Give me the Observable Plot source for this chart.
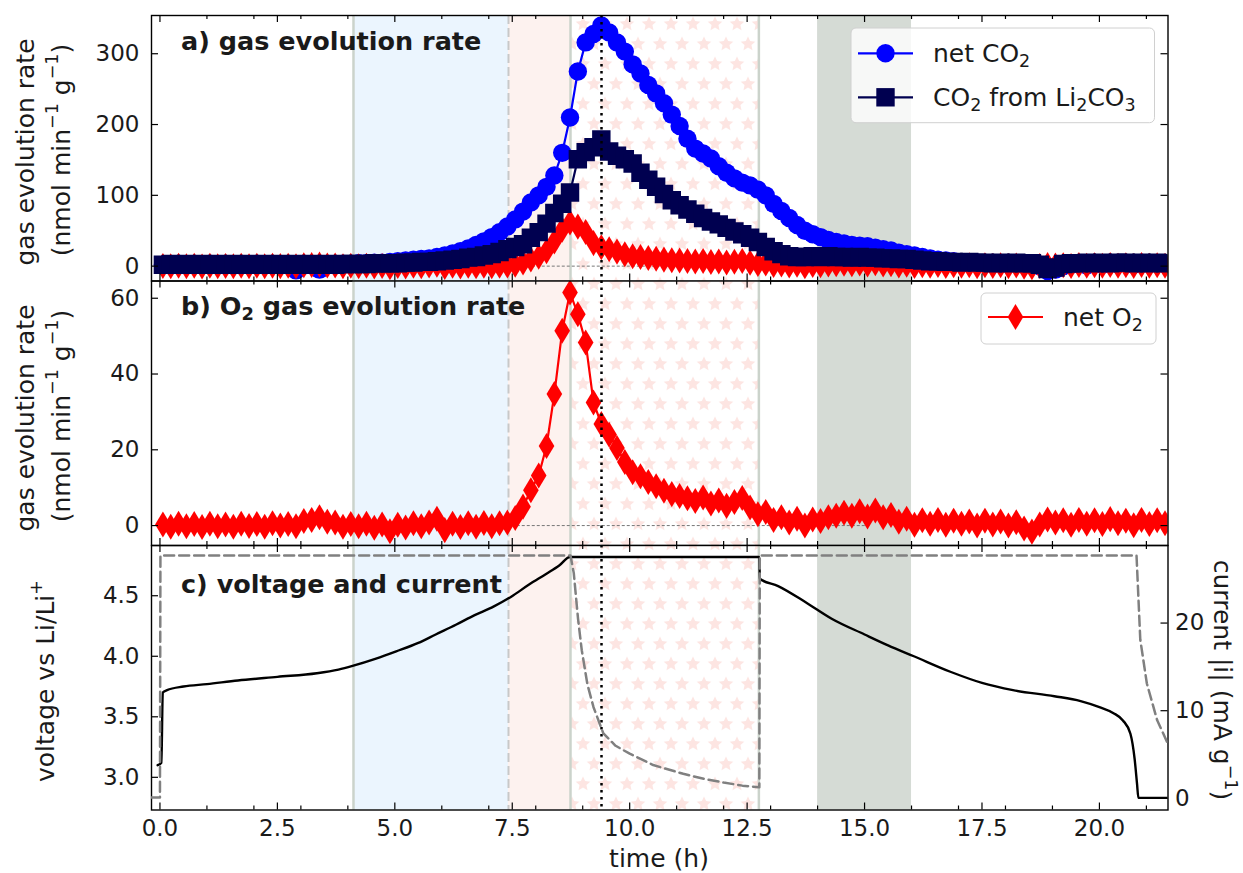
<!DOCTYPE html>
<html><head><meta charset="utf-8">
<script src="https://cdn.jsdelivr.net/npm/d3@7"></script>
<script src="https://cdn.jsdelivr.net/npm/@observablehq/plot@0.6"></script>
<style>
html,body{margin:0;padding:0;background:#fff;}
#fig{position:relative;width:1243px;height:873px;overflow:hidden;background:#fff;font-family:"DejaVu Sans",sans-serif;}
#fig svg{position:absolute;left:0;top:0;overflow:visible;background:transparent;}
</style></head>
<body><div id="fig"></div>
<script>
// ---------------- data ----------------
// gas evolution samples: regular 10-min grid starting at sampleStartH
const sampleStartH = 0.063;
const sampleStepH = 1 / 6;
const o2Rate = [0.3,-0.3,0.5,-0.2,0.4,-0.4,0.5,-0.2,0.3,-0.3,
  0.5,-0.1,0.4,-0.3,0.6,0.0,0.4,-0.2,1.2,1.5,
  2.2,1.0,0.8,-0.3,0.4,-0.2,0.5,-0.6,0.3,-1.5,
  0.2,-0.5,0.6,-0.2,0.8,1.8,-1.2,0.5,-0.4,0.6,
  -0.3,0.7,-0.2,0.6,0.8,2.0,5.0,9.3,13.2,21.0,
  34.7,51.4,61.5,55.8,48.3,32.5,26.8,24.0,20.5,16.8,
  14.1,13.0,11.5,10.4,9.2,8.3,7.8,7.2,6.5,7.4,
  5.8,6.6,5.2,6.2,7.3,4.8,3.0,3.6,1.5,2.2,
  0.8,1.8,0.0,1.6,1.2,2.2,2.6,3.4,2.6,3.8,
  2.4,4.0,2.2,2.8,1.0,1.8,0.2,1.4,0.5,1.5,
  0.2,1.3,0.5,1.1,0.0,1.3,0.3,1.1,0.0,0.9,
  -0.8,-1.6,0.3,1.6,0.8,1.4,0.2,1.5,0.5,1.4,
  0.4,1.7,0.6,1.3,0.1,1.5,0.4,1.4,0.6];
const co2Net = [2,1,3,2,2,1,3,2,2,1,
  2,1,3,2,2,1,2,-6,1,2,
  -5,2,2,3,3,4,4,5,5,6,
  7,8,9,10,11,13,15,18,21,25,
  30,35,41,48,56,66,77,90,100,112,
  128,160,210,275,316,328,340,330,316,303,
  285,272,256,244,230,214,198,180,166,159,
  152,141,132,124,118,114,108,100,88,78,
  68,58,50,45,41,37,34,32,30,29,
  28,26,24,22,19,17,15,13,11,9,
  8,7,5,5,4,4,3,4,3,4,
  2,3,0,-7,-5,0,2,3,1,4,
  2,5,3,4,2,5,3,4,3];
const co2FromLi2CO3 = [2,3,2,3,2,3,2,3,2,3,
  2,3,2,3,2,3,2,3,2,3,
  2,3,2,3,3,3,3,4,4,4,
  4,5,5,6,6,7,8,9,10,12,
  13,15,17,20,24,27,31,40,48,60,
  75,88,104,151,161,168,179,162,156,151,
  145,132,122,112,102,93,86,80,74,68,
  63,59,54,49,45,40,34,27,21,17,
  14,13,13,14,13,14,13,13,12,13,
  12,12,11,11,10,10,9,8,7,7,
  6,6,5,6,5,5,4,5,4,5,
  4,4,2,-4,-2,3,4,4,5,4,
  5,4,5,5,4,5,4,5,4];

// voltage (V vs Li/Li+) and current |i| (mA/g)
const voltageTime = [-0.05,0.03,0.06,0.15,0.5,1.0,1.66,2.5,3.34,3.8,4.1,4.6,5.03,5.5,5.87,6.3,6.7,7.1,7.47,7.85,8.22,8.5,8.73,12.76,12.77,13.16,13.77,14.3,15.0,15.5,16.05,16.84,17.5,18.16,19.04,19.6,20.0,20.3,20.5,20.66,20.75,20.8,20.83,21.5];
const voltageValue = [3.1,3.12,3.70,3.72,3.75,3.77,3.80,3.83,3.86,3.89,3.92,3.98,4.04,4.11,4.18,4.26,4.34,4.41,4.49,4.59,4.68,4.75,4.82,4.82,4.64,4.58,4.44,4.31,4.18,4.09,4.0,3.87,3.78,3.72,3.67,3.63,3.58,3.53,3.47,3.36,3.15,2.95,2.83,2.83];
const currentTime = [-0.2,0.0,0.01,8.74,8.81,8.9,8.98,9.1,9.23,9.44,9.7,10.0,10.5,11.14,11.6,12.0,12.4,12.76,12.77,20.79,20.87,21.01,21.23,21.46];
const currentValue = [0.1,0.1,27.7,27.7,25.7,20.5,16.9,13.0,10.4,7.4,6.0,5.1,3.8,2.8,2.2,1.8,1.45,1.26,27.7,27.7,18.1,13.1,8.9,6.2];

// shaded phases (h)
const spanBlue = [4.12, 7.42];
const spanPink = [7.42, 8.74];
const spanStars = [8.74, 12.75];
const spanGray = [14.0, 16.0];
const boundarySolid = [4.12, 8.74, 12.75];
const boundaryDashed = [7.42];
const markerTime = [9.4];
const zeroLineSpan = [7.5, 15.1];

// ticks
const xMajor = [0, 2.5, 5, 7.5, 10, 12.5, 15, 17.5, 20];
const xMinor = [1,2,3,4,6,7,8,9,11,12,13,14,16,17,18,19,21];
const yTicksA = [0, 100, 200, 300];
const yTicksB = [0, 20, 40, 60];
const yTicksV = [3.0, 3.5, 4.0, 4.5];
const yTicksI = [0, 10, 20];

// ---------------- layout ----------------
const W = 1243, H = 873;
const frameL = 151, frameR = 1167.5;
const xDomain = [-0.18, 21.46];
const panels = {
  a: {top: 15, bottom: 280.5, y: [-21, 354]},
  b: {top: 280.5, bottom: 545, y: [-5.26, 64.55]},
  c: {top: 545, bottom: 809.5, y: [2.73, 4.915]},
  ci: {top: 545, bottom: 809.5, y: [-1.33, 28.85]}
};

const gas = o2Rate.map((v, i) => ({
  t: sampleStartH + i * sampleStepH,
  o2: v, net: co2Net[i], li: co2FromLi2CO3[i]
}));
const volt = voltageTime.map((t, i) => ({t, v: voltageValue[i]}));
const curr = currentTime.map((t, i) => ({t, v: currentValue[i]}));

const thinDiamond = {
  draw(ctx, size) {
    const r = Math.sqrt(size / Math.PI);
    const h = r * 1.414, w = r * 0.85;
    ctx.moveTo(0, -h); ctx.lineTo(w, 0); ctx.lineTo(0, h); ctx.lineTo(-w, 0); ctx.closePath();
  }
};

const style = {fontFamily: "DejaVu Sans", fontSize: "23px", background: "transparent", overflow: "visible", color: "#1a1a1a"};

function backgroundMarks(id) {
  return [
    Plot.rect([spanBlue], {x1: d => d[0], x2: d => d[1], fill: "#ebf5fe"}),
    Plot.rect([spanPink], {x1: d => d[0], x2: d => d[1], fill: "#fdf2ef"}),
    Plot.rect([spanStars], {x1: d => d[0], x2: d => d[1], fill: `url(#stars-${id})`}),
    Plot.rect([spanGray], {x1: d => d[0], x2: d => d[1], fill: "#d5dbd5"}),
    Plot.ruleX(boundarySolid, {x: d => d, stroke: "#cbd3cb", strokeWidth: 2.5}),
    Plot.ruleX(boundaryDashed, {x: d => d, stroke: "#c8c8c8", strokeWidth: 2, strokeDasharray: "9,4"})
  ];
}

function frameMarks(p, yTicks, rightTicks) {
  const fh = p.bottom - p.top, fw = frameR - frameL;
  const k = {stroke: "#000", strokeWidth: 1.2};
  const m = [
    Plot.tickX(xMajor, {x: d => d, insetTop: fh - 7, ...k}),
    Plot.tickX(xMajor, {x: d => d, insetBottom: fh - 7, ...k}),
    Plot.tickX(xMinor, {x: d => d, insetTop: fh - 4, ...k}),
    Plot.tickX(xMinor, {x: d => d, insetBottom: fh - 4, ...k}),
    Plot.tickY(yTicks, {y: d => d, insetRight: fw - 7, ...k})
  ];
  if (rightTicks) m.push(Plot.tickY(yTicks, {y: d => d, insetLeft: fw - 7, ...k}));
  m.push(Plot.frame({stroke: "#000", strokeWidth: 1.4}));
  return m;
}

function starDefs(id) {
  const star = (cx, cy) => {
    const pts = [];
    for (let j = 0; j < 10; j++) {
      const r = j % 2 === 0 ? 7.6 : 3.6;
      const a = -Math.PI / 2 + j * Math.PI / 5;
      pts.push((cx + r * Math.cos(a)).toFixed(2) + "," + (cy + r * Math.sin(a)).toFixed(2));
    }
    return `<polygon points="${pts.join(" ")}" fill="#fde5e2"/>`;
  };
  return `<defs><pattern id="stars-${id}" patternUnits="userSpaceOnUse" width="22" height="40" x="0" y="4">
    <rect width="22" height="40" fill="#ffffff"/>
    ${star(0,0)}${star(22,0)}${star(0,40)}${star(22,40)}${star(11,20)}
  </pattern></defs>`;
}

function makePlot(p, opts) {
  return Plot.plot({
    width: W, height: H,
    marginLeft: frameL, marginRight: W - frameR,
    marginTop: p.top, marginBottom: H - p.bottom,
    style,
    x: {domain: xDomain, ...(opts.x || {axis: null})},
    y: {domain: p.y, ...opts.y},
    marks: opts.marks
  });
}

const lineOpts = {strokeWidth: 2.2, clip: true};
const RC = 9.2, RS = 10.4, RD = 9.2;

// panel a
const svgA = makePlot(panels.a, {
  y: {ticks: yTicksA, tickSize: 0, tickPadding: 12, label: null, tickFormat: d => String(d)},
  marks: [
    ...backgroundMarks("a"),
    Plot.ruleY([0], {x1: zeroLineSpan[0], x2: zeroLineSpan[1], stroke: "#777", strokeWidth: 1, strokeDasharray: "3,2"}),
    Plot.line(gas, {x: "t", y: "net", stroke: "#0000ff", ...lineOpts}),
    Plot.dot(gas, {x: "t", y: "net", r: RC, symbol: "circle", fill: "#0000ff", stroke: "none", clip: true}),
    Plot.line(gas, {x: "t", y: "o2", stroke: "#ff0000", ...lineOpts}),
    Plot.dot(gas, {x: "t", y: "o2", r: RD, symbol: thinDiamond, fill: "#ff0000", stroke: "none", clip: true}),
    Plot.line(gas, {x: "t", y: "li", stroke: "#000050", ...lineOpts}),
    Plot.dot(gas, {x: "t", y: "li", r: RS, symbol: "square", fill: "#000050", stroke: "none", clip: true}),
    Plot.ruleX(markerTime, {x: d => d, stroke: "#000", strokeWidth: 2.5, strokeDasharray: "2.5,4.5"}),
    ...frameMarks(panels.a, yTicksA, true)
  ]
});

// panel b
const svgB = makePlot(panels.b, {
  y: {ticks: yTicksB, tickSize: 0, tickPadding: 12, label: null, tickFormat: d => String(d)},
  marks: [
    ...backgroundMarks("b"),
    Plot.ruleY([0], {x1: zeroLineSpan[0], x2: zeroLineSpan[1], stroke: "#777", strokeWidth: 1, strokeDasharray: "3,2"}),
    Plot.line(gas, {x: "t", y: "o2", stroke: "#ff0000", ...lineOpts}),
    Plot.dot(gas, {x: "t", y: "o2", r: RD, symbol: thinDiamond, fill: "#ff0000", stroke: "none", clip: true}),
    Plot.ruleX(markerTime, {x: d => d, stroke: "#000", strokeWidth: 2.5, strokeDasharray: "2.5,4.5"}),
    ...frameMarks(panels.b, yTicksB, true)
  ]
});

// panel c (voltage, left axis)
const svgC = makePlot(panels.c, {
  x: {ticks: xMajor, tickFormat: d => d.toFixed(1), tickSize: 0, tickPadding: 10, label: null},
  y: {ticks: yTicksV, tickSize: 0, tickPadding: 12, label: null, tickFormat: d => d.toFixed(1)},
  marks: [
    ...backgroundMarks("c"),
    Plot.line(volt, {x: "t", y: "v", stroke: "#000", strokeWidth: 2.4, clip: true, curve: "monotone-x"}),
    Plot.ruleX(markerTime, {x: d => d, stroke: "#000", strokeWidth: 2.5, strokeDasharray: "2.5,4.5"}),
    ...frameMarks(panels.c, yTicksV, false)
  ]
});

// panel c overlay (current, right axis)
const svgCI = makePlot(panels.ci, {
  y: {axis: "right", ticks: yTicksI, tickSize: 0, tickPadding: 7, label: null, tickFormat: d => String(d)},
  marks: [
    Plot.line(curr, {x: "t", y: "v", stroke: "#808080", strokeWidth: 2.5, strokeDasharray: "10,5", clip: true}),
    Plot.tickY(yTicksI, {y: d => d, insetLeft: (frameR - frameL) - 7, stroke: "#000", strokeWidth: 1.2})
  ]
});

const fig = document.getElementById("fig");
[[svgA, "a"], [svgB, "b"], [svgC, "c"]].forEach(([s, id]) => {
  s.insertAdjacentHTML("afterbegin", starDefs(id));
  fig.appendChild(s);
});
fig.appendChild(svgCI);

// ---------------- text layer: titles, axis labels, legends ----------------
const FS = 25, FT = 25.5, FL = 25;
const sub = (s, f) => `<tspan dy="5" font-size="${f*0.7}">${s}</tspan><tspan dy="-5">`;
const sup = (s, f) => `<tspan dy="-9" font-size="${f*0.7}">${s}</tspan><tspan dy="9">`;
const sym = {
  circle: (x, y, c) => `<circle cx="${x}" cy="${y}" r="${RC}" fill="${c}"/>`,
  square: (x, y, c) => `<rect x="${x-9.2}" y="${y-9.2}" width="18.4" height="18.4" fill="${c}"/>`,
  diamond: (x, y, c) => `<path d="M${x},${y-13}L${x+7.8},${y}L${x},${y+13}L${x-7.8},${y}Z" fill="${c}"/>`
};
function legendRow(x1, x2, y, color, shape, label) {
  return `<line x1="${x1}" x2="${x2}" y1="${y}" y2="${y}" stroke="${color}" stroke-width="2.2"/>` +
    sym[shape]((x1 + x2) / 2, y, color) +
    `<text x="${x2 + 20}" y="${y}" dy="0.35em" font-size="${FL}">${label}</tspan></text>`;
}
const texts = `
<svg width="${W}" height="${H}" font-family="DejaVu Sans" fill="#1a1a1a">
  <text x="181" y="50" font-size="${FT}" font-weight="bold">a) gas evolution rate</text>
  <text x="181" y="315" font-size="${FT}" font-weight="bold">b) O${sub("2", FT)} gas evolution rate</tspan></text>
  <text x="181" y="593" font-size="${FT}" font-weight="bold">c) voltage and current</text>

  <g font-size="${FS}" text-anchor="middle">
    <text transform="translate(25,152) rotate(-90)" dominant-baseline="central">gas evolution rate</text>
    <text transform="translate(61,150) rotate(-90)" dominant-baseline="central">(nmol min${sup("−1", FS)} g</tspan>${sup("−1", FS)})</tspan></text>
    <text transform="translate(25,418) rotate(-90)" dominant-baseline="central">gas evolution rate</text>
    <text transform="translate(61,416) rotate(-90)" dominant-baseline="central">(nmol min${sup("−1", FS)} g</tspan>${sup("−1", FS)})</tspan></text>
    <text transform="translate(45,681) rotate(-90)" dominant-baseline="central">voltage vs Li/Li${sup("+", FS)}</tspan></text>
    <text transform="translate(1222,680) rotate(90)" dominant-baseline="central">current |i| (mA g${sup("−1", FS)})</tspan></text>
    <text x="659" y="858" dominant-baseline="central">time (h)</text>
  </g>

  <rect x="851" y="28" width="303.5" height="94.7" rx="5" fill="#fff" fill-opacity="0.8" stroke="#d0d0d0"/>
  ${legendRow(858, 913, 53.3, "#0000ff", "circle", `net CO${sub("2", FL)}`)}
  ${legendRow(858, 913, 97.3, "#000050", "square", `CO${sub("2", FL)} from Li${sub("2", FL)}CO${sub("3", FL)}</tspan>`)}

  <rect x="981" y="293" width="175" height="51" rx="5" fill="#fff" fill-opacity="0.8" stroke="#d0d0d0"/>
  ${legendRow(988, 1043, 317, "#ff0000", "diamond", `net O${sub("2", FL)}`)}
</svg>`;
fig.insertAdjacentHTML("beforeend", texts);
</script>
</body></html>
